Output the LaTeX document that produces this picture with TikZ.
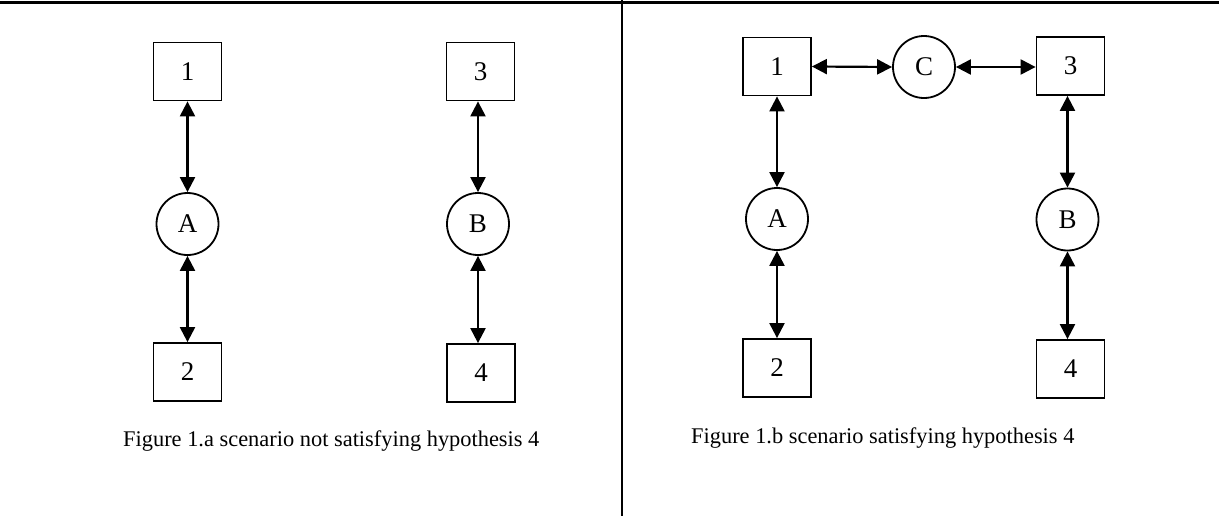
\documentclass[tikz,border=0pt]{standalone}
\usepackage{fontspec}
\setmainfont{Liberation Serif}
\usetikzlibrary{arrows.meta}
\begin{document}
\begin{tikzpicture}[x=1pt,y=-1pt,
  boxnode/.style={draw,line width=1.8pt,minimum width=68pt,minimum height=58pt,inner sep=0pt,font=\fontsize{27}{30}\selectfont},
  circnode/.style={draw,circle,line width=1.8pt,minimum size=62pt,inner sep=0pt,font=\fontsize{27}{30}\selectfont},
  link/.style={line width=2.2pt,{Triangle[length=15pt,width=15pt]}-{Triangle[length=15pt,width=15pt]}},
  captiontext/.style={font=\fontsize{22.4}{26}\selectfont,anchor=base west,inner sep=0pt},
  rule/.style={line width=3pt}]
\useasboundingbox (0,0) rectangle (1219,517);
% frame lines
\coordinate (tl) at (0,2);
\coordinate (tr) at (1219,2);
\coordinate (vt) at (622,0);
\coordinate (vb) at (622,516);
\draw[rule] (tl) -- (tr);
\draw[line width=2pt] (vt) -- (vb);
% left figure
\node[boxnode] (l1) at (187.5,71.5) {1};
\node[circnode] (lA) at (187.5,224) {A};
\node[boxnode] (l2) at (187.5,372) {2};
\node[boxnode] (l3) at (480.5,71.5) {3};
\node[circnode] (lB) at (478,224) {B};
\node[boxnode] (l4) at (481,373) {4};
\draw[link] (l1.south) -- (lA.north);
\draw[link] (lA.south) -- (l2.north);
\draw[link] (lB.north) -- (lB.north |- l3.south);
\draw[link] (lB.south) -- (lB.south |- l4.north);
\node[captiontext] (capa) at (123,446) {Figure 1.a scenario not satisfying hypothesis 4};
% right figure
\node[boxnode] (r1) at (777,66.5) {1};
\node[circnode] (rC) at (924,67) {C};
\node[boxnode] (r3) at (1070.5,66) {3};
\node[circnode] (rA) at (777,219) {A};
\node[circnode] (rB) at (1067.5,219.5) {B};
\node[boxnode] (r2) at (777,368) {2};
\node[boxnode] (r4) at (1070.5,369) {4};
\draw[link] (r1.east) -- (rC.west);
\draw[link] (rC.east) -- (rC.east -| r3.west);
\draw[link] (r1.south) -- (rA.north);
\draw[link] (rA.south) -- (r2.north);
\draw[link] (rB.north) -- (rB.north |- r3.south);
\draw[link] (rB.south) -- (rB.south |- r4.north);
\node[captiontext] (capb) at (691,443) {Figure 1.b scenario satisfying hypothesis 4};
\end{tikzpicture}
\end{document}
